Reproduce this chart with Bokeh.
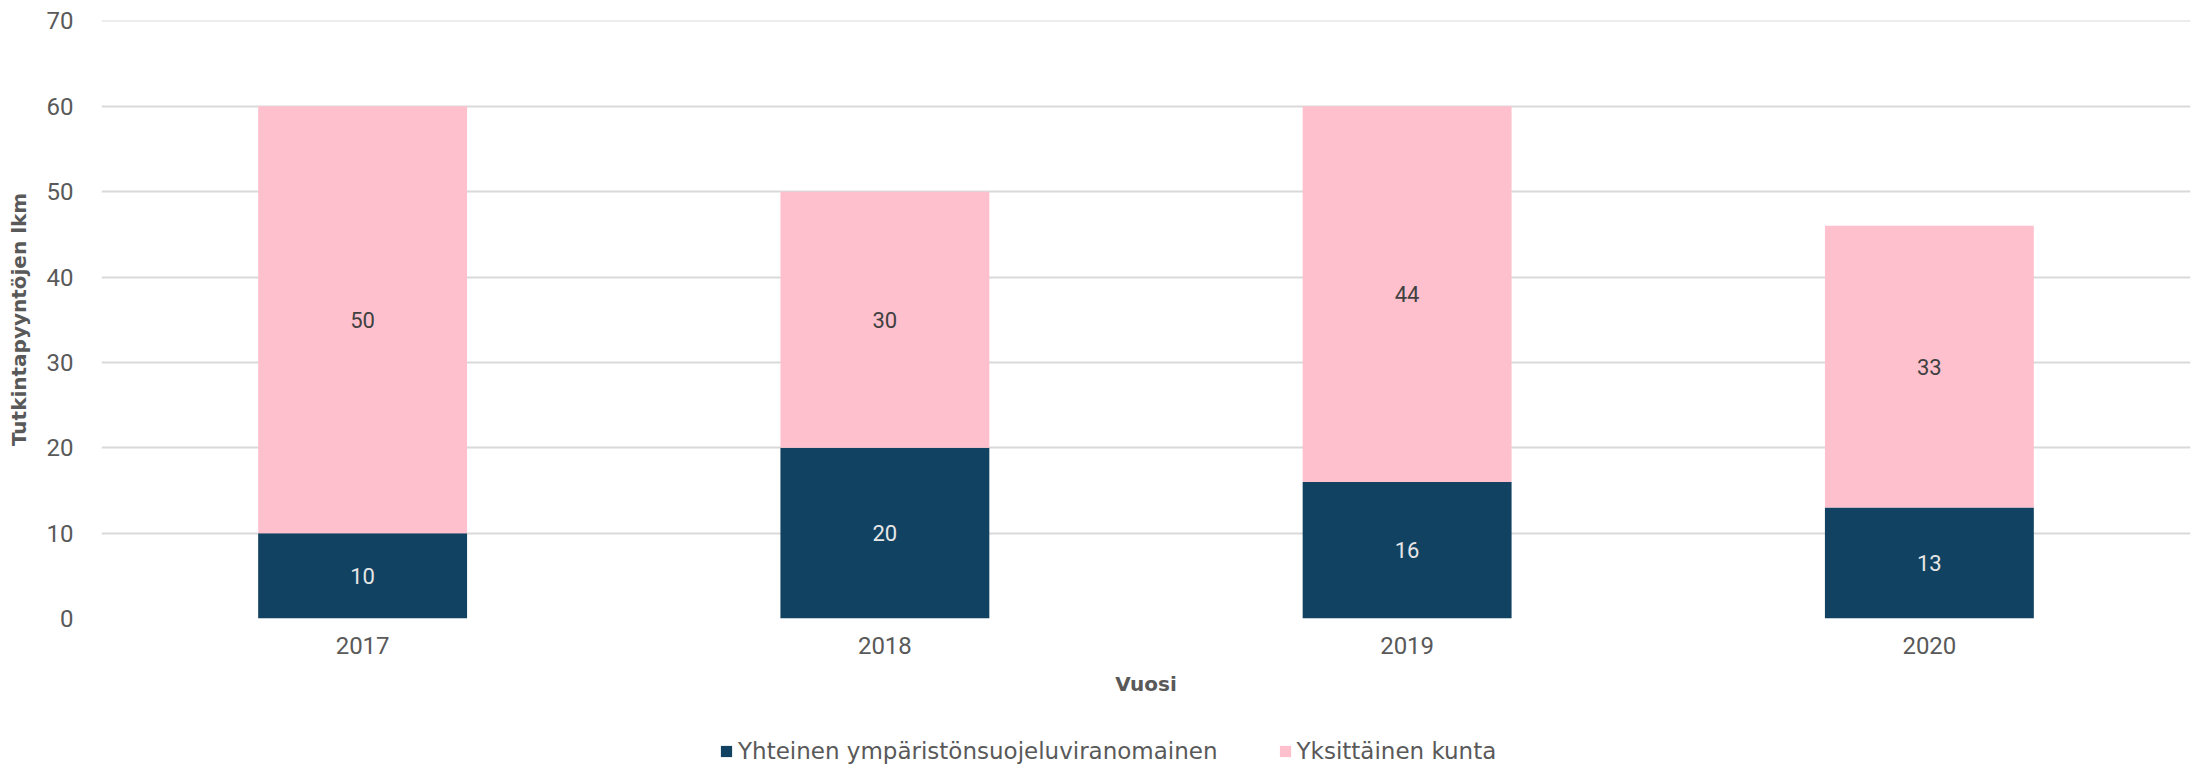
from bokeh.plotting import figure
from bokeh.layouts import column
from bokeh.models import ColumnDataSource, Range1d, FactorRange, FixedTicker, Legend, LegendItem, LabelSet
from bokeh.embed import file_html
from bokeh.resources import INLINE
from bokeh.core.properties import value

years = ["2017", "2018", "2019", "2020"]
yhteinen = [10, 20, 16, 13]
yksittainen = [50, 30, 44, 33]
series_names = ["Yhteinen ympäristönsuojeluviranomainen", "Yksittäinen kunta"]
y_ticks = [0, 10, 20, 30, 40, 50, 60, 70]

BLUE = "#124262"
PINK = "#FFC0CE"
FONT = "Roboto"
TFONT = "DejaVu Sans"

src = ColumnDataSource(dict(
    year=years,
    a=yhteinen,
    b=yksittainen,
    a_mid=[v / 2 for v in yhteinen],
    b_mid=[a + b / 2 for a, b in zip(yhteinen, yksittainen)],
    a_lbl=[str(v) for v in yhteinen],
    b_lbl=[str(v) for v in yksittainen],
))

p = figure(frame_width=2089, frame_height=598, x_range=FactorRange(*years), y_range=Range1d(0, 70.05),
           output_backend="svg", toolbar_location=None,
           min_border_left=101, min_border_right=11, min_border_top=20, min_border_bottom=100)

r = p.vbar_stack(["a", "b"], x="year", width=0.4, color=[BLUE, PINK], source=src, line_width=0)

p.add_layout(LabelSet(x="year", y="a_mid", text="a_lbl", source=src, text_align="center",
                      text_baseline="middle", text_color="#e6e6e6", text_font=value(FONT),
                      text_font_size="22px"))
p.add_layout(LabelSet(x="year", y="b_mid", text="b_lbl", source=src, text_align="center",
                      text_baseline="middle", text_color="#404040", text_font=value(FONT),
                      text_font_size="22px"))

p.xgrid.grid_line_color = None
p.ygrid.grid_line_color = "#d9d9d9"
p.ygrid.grid_line_width = 2
p.ygrid.ticker = FixedTicker(ticks=y_ticks)
p.yaxis.ticker = FixedTicker(ticks=y_ticks)
p.outline_line_color = None

for ax in (p.xaxis[0], p.yaxis[0]):
    ax.axis_line_color = None
    ax.major_tick_line_color = None
    ax.minor_tick_line_color = None
    ax.major_label_text_font = FONT
    ax.major_label_text_font_size = "24px"
    ax.major_label_text_color = "#595959"
    ax.axis_label_text_font = TFONT
    ax.axis_label_text_font_size = "20px"
    ax.axis_label_text_font_style = "bold"
    ax.axis_label_text_color = "#595959"

p.xaxis.axis_label = "Vuosi"
p.yaxis.axis_label = "Tutkintapyyntöjen lkm"
p.xaxis.major_label_standoff = 12
p.xaxis.axis_label_standoff = 15
p.yaxis.major_label_standoff = 22
p.yaxis.axis_label_standoff = 13

# legend strip below the chart (proxy glyphs sit outside the visible range)
lf = figure(width=2201, height=49, x_range=Range1d(0, 1), y_range=Range1d(0, 1),
            x_axis_type=None, y_axis_type=None, output_backend="svg", toolbar_location=None,
            min_border=0, min_border_left=0, min_border_right=0, min_border_top=0, min_border_bottom=0)
lf.grid.grid_line_color = None
lf.outline_line_color = None
proxy = ColumnDataSource(dict(x=[-5], y=[-5]))
ra = lf.rect(x="x", y="y", width=0.01, height=0.01, fill_color=BLUE, line_color=None, source=proxy)
rb = lf.rect(x="x", y="y", width=0.01, height=0.01, fill_color=PINK, line_color=None, source=proxy)

legend = Legend(items=[LegendItem(label=series_names[0], renderers=[ra]),
                       LegendItem(label=series_names[1], renderers=[rb])],
                orientation="horizontal", location=(618, 3),
                glyph_width=14, glyph_height=14, label_standoff=5, spacing=60,
                label_text_font=TFONT, label_text_font_size="23px", label_text_color="#595959",
                border_line_color=None, background_fill_alpha=0, margin=0, padding=0)
lf.add_layout(legend, "center")

layout = column(p, lf, spacing=0)
open("out.html", "w").write(file_html(layout, INLINE))
